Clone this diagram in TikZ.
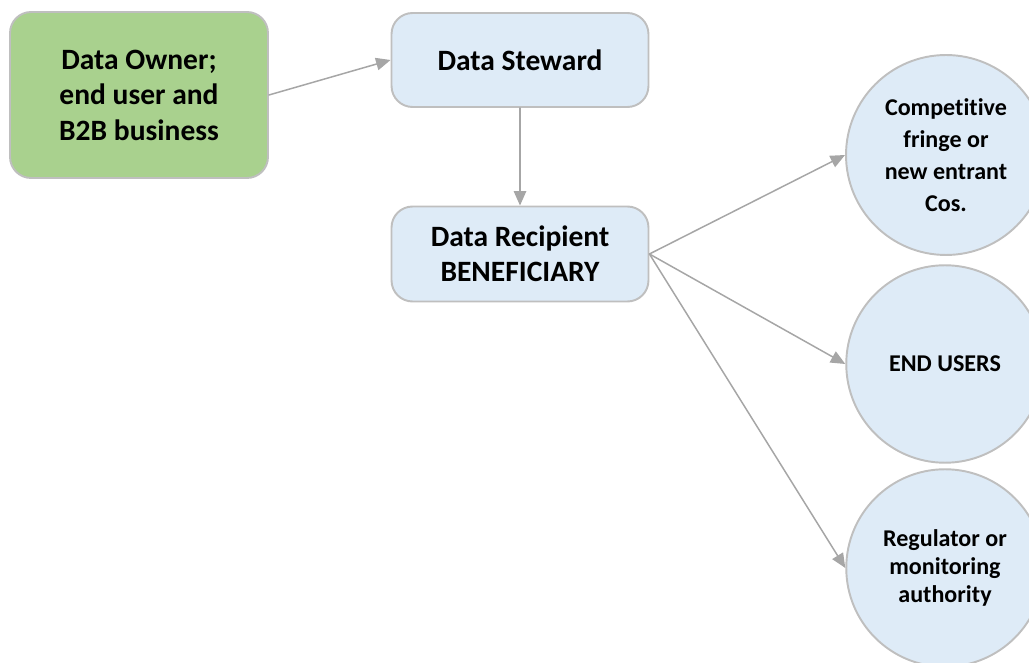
\documentclass[tikz,border=0pt]{standalone}
\usepackage{fontspec}
\setmainfont[Ligatures=NoCommon]{Carlito}
\usetikzlibrary{arrows.meta}
\definecolor{ownergreen}{HTML}{A9D18E}
\definecolor{paleblue}{HTML}{DEEBF7}
\definecolor{rimgray}{HTML}{BFBFBF}
\definecolor{linkgray}{HTML}{A6A6A6}

\begin{document}
\begin{tikzpicture}[x=0.02cm, y=0.02cm, line cap=round, line join=round,
    box/.style={draw=rimgray, line width=1.1pt, rounded corners=0.42cm, align=center,
      font=\fontsize{16.8}{20.2}\selectfont\bfseries, inner sep=0pt},
    party/.style={circle, draw=rimgray, line width=1.1pt, fill=paleblue, align=center,
      minimum size=3.95cm, inner sep=0pt, font=\fontsize{13.7}{16}\selectfont\bfseries},
    link/.style={draw=linkgray, line width=0.85pt, -{Triangle[length=0.29cm, width=0.25cm]}}]
    \useasboundingbox (0,0) rectangle (1029,663);
    \node[box, fill=ownergreen, minimum width=5.16cm, minimum height=3.32cm] (owner) at (139,568)
      {Data Owner;\\ end user and\\ B2B business};
    \node[box, fill=paleblue, minimum width=5.14cm, minimum height=1.88cm] (steward) at (520,603)
      {Data Steward};
    \node[box, fill=paleblue, minimum width=5.14cm, minimum height=1.9cm] (recipient) at (520,409)
      {Data Recipient\\ BENEFICIARY};
    \node[party, minimum size=4cm, font=\fontsize{13.7}{18.2}\selectfont\bfseries] (fringe) at (946,508)
      {Competitive\\ fringe or\\ new entrant\\ Cos.};
    \node[party] (endusers) at (945,299) {END USERS};
    \node[party] (regulator) at (945,95) {Regulator or\\ monitoring\\ authority};
    \draw[link] (owner.east) -- (steward.west);
    \draw[link] (steward.south) -- (recipient.north);
    \foreach \target in {fringe,endusers,regulator} \draw[link] (recipient.east) -- (\target.west);
  \end{tikzpicture}
\end{document}
